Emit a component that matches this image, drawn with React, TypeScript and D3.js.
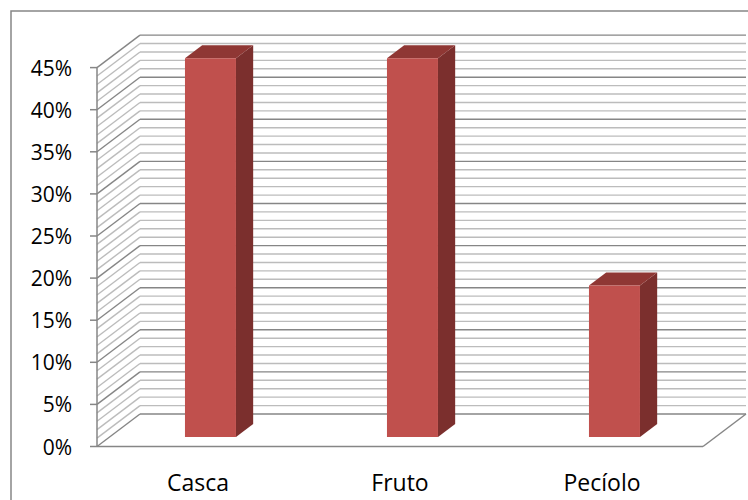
import React from "react";
import * as d3 from "d3";

const categories = ["Casca", "Fruto", "Pecíolo"];
const values = [45, 45, 18];
const majorTicks = [0, 5, 10, 15, 20, 25, 30, 35, 40, 45];
const minorTicks = d3.range(0, 46, 1);

const W = 748;
const H = 500;
const X0 = 97;
const X1 = 703;
const Y0 = 446.5;
const DX = 43;
const DY = 32.5;

export default function App() {
  const y = d3.scaleLinear().domain([0, 45]).range([Y0, Y0 - 45 * 8.42]);
  const x = d3.scaleBand().domain(categories).range([X0, X1]).paddingInner(0).paddingOuter(0);
  const barW = 51;
  const z0 = 0.29;
  const z1 = 0.69;
  const proj = (px: number, v: number, z: number): [number, number] => [px + z * DX, y(v) - z * DY];
  const pts = (arr: [number, number][]) => arr.map((p) => p.join(",")).join(" ");

  const backLeft = X0 + DX;
  const backRight = X1 + DX;

  return (
    <svg width={W} height={H} style={{ position: "absolute", left: 0, top: 0, background: "#fff" }}>
      <rect x={11} y={11} width={W + 20} height={H + 20} fill="#fff" stroke="#868686" strokeWidth={1.5} />
      {/* back wall gridlines */}
      {minorTicks.map((t) => {
        const major = t % 5 === 0;
        return (
          <g key={"g" + t}>
            <line
              x1={backLeft}
              x2={backRight}
              y1={y(t) - DY}
              y2={y(t) - DY}
              stroke={major ? "#868686" : "#bcbcbc"}
              strokeWidth={1.4}
            />
            <line
              x1={X0}
              y1={y(t)}
              x2={backLeft}
              y2={y(t) - DY}
              stroke={major ? "#868686" : "#bcbcbc"}
              strokeWidth={1.4}
            />
          </g>
        );
      })}
      {/* floor */}
      <line x1={X0} x2={X1} y1={Y0} y2={Y0} stroke="#868686" strokeWidth={1.5} />
      <line x1={X1} y1={Y0} x2={backRight} y2={Y0 - DY} stroke="#868686" strokeWidth={1.5} />
      {/* axis */}
      <line x1={X0} x2={X0} y1={Y0} y2={y(45)} stroke="#868686" strokeWidth={1.5} />
      {majorTicks.map((t) => (
        <g key={"t" + t}>
          <line x1={X0 - 7} x2={X0} y1={y(t)} y2={y(t)} stroke="#868686" strokeWidth={1.5} />
          <text
            x={72}
            y={y(t)}
            textAnchor="end"
            dominantBaseline="central"
            fontFamily="'Open Sans', sans-serif"
            fontSize={21}
            fill="#000"
          >
            {t + "%"}
          </text>
        </g>
      ))}
      {/* bars */}
      {categories.map((c, i) => {
        const v = values[i];
        const left = (x(c) as number) + (x.bandwidth() - barW) / 2;
        const right = left + barW;
        const fbl = proj(left, 0, z0);
        const fbr = proj(right, 0, z0);
        const ftl = proj(left, v, z0);
        const ftr = proj(right, v, z0);
        const btl = proj(left, v, z1);
        const btr = proj(right, v, z1);
        const bbr = proj(right, 0, z1);
        return (
          <g key={c}>
            <polygon points={pts([fbr, ftr, btr, bbr])} fill="#7b2f2d" />
            <polygon points={pts([ftl, ftr, btr, btl])} fill="#8f3734" />
            <polygon points={pts([fbl, fbr, ftr, ftl])} fill="#c0504d" />
          </g>
        );
      })}
      {/* category labels */}
      {categories.map((c) => (
        <text
          key={"l" + c}
          x={(x(c) as number) + x.bandwidth() / 2}
          y={491}
          textAnchor="middle"
          fontFamily="'Open Sans', sans-serif"
          fontSize={23}
          fill="#000"
        >
          {c}
        </text>
      ))}
    </svg>
  );
}
